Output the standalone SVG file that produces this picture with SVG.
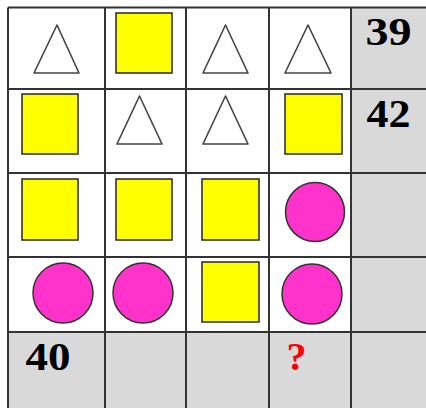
<svg xmlns="http://www.w3.org/2000/svg" width="426" height="408" viewBox="0 0 426 408">
<style>
.tri{fill:#fff;stroke:#444;stroke-width:1.6;stroke-linejoin:round}
.sq{fill:#ffff00;stroke:#333;stroke-width:1.6}
.ci{fill:#ff33cc;stroke:#333;stroke-width:1.5}
.gl{stroke:#333;stroke-width:2;fill:none}
.num{font-family:"Liberation Serif",serif;font-weight:bold;font-size:40px;fill:#000}
.q{font-family:"Liberation Serif",serif;font-weight:bold;font-size:40px;fill:#ff0000}
</style>
<rect x="0" y="0" width="426" height="408" fill="#fff"/>
<rect x="351" y="7.5" width="75" height="400.5" fill="#d9d9d9"/>
<rect x="8" y="332" width="418" height="76" fill="#d9d9d9"/>
<g id="grid">
<path class="gl" d="M8 7.5H426M8 89H426M8 173H426M8 257H426M8 332H426M8 7.5V408M105 7.5V408M186 7.5V408M269 7.5V408M351 7.5V408"/>
</g>
<g id="r0c0"><polygon class="tri" points="57,25 34,73 79,73"/></g>
<g id="r0c1"><rect class="sq" x="116" y="13" width="56" height="60"/></g>
<g id="r0c2"><polygon class="tri" points="225.5,25 203,73 248,73"/></g>
<g id="r0c3"><polygon class="tri" points="308,25 285,73 331,73"/></g>
<g id="r0c4"><text class="num" x="388.5" y="45" text-anchor="middle" textLength="46" lengthAdjust="spacingAndGlyphs">39</text></g>
<g id="r1c0"><rect class="sq" x="22" y="94" width="56" height="60"/></g>
<g id="r1c1"><polygon class="tri" points="139.5,96 117,144 162,144"/></g>
<g id="r1c2"><polygon class="tri" points="225.5,96 203,144 248,144"/></g>
<g id="r1c3"><rect class="sq" x="285" y="94" width="57" height="60"/></g>
<g id="r1c4"><text class="num" x="388.5" y="127" text-anchor="middle" textLength="44" lengthAdjust="spacingAndGlyphs">42</text></g>
<g id="r2c0"><rect class="sq" x="22" y="179" width="56" height="61"/></g>
<g id="r2c1"><rect class="sq" x="116" y="179" width="56" height="61"/></g>
<g id="r2c2"><rect class="sq" x="202" y="179" width="57" height="61"/></g>
<g id="r2c3"><circle class="ci" cx="315" cy="212" r="29.5"/></g>
<g id="r3c0"><circle class="ci" cx="63" cy="293" r="30"/></g>
<g id="r3c1"><circle class="ci" cx="143" cy="293" r="30"/></g>
<g id="r3c2"><rect class="sq" x="202" y="262" width="57" height="60"/></g>
<g id="r3c3"><circle class="ci" cx="312" cy="294" r="30"/></g>
<g id="r4c0"><text class="num" x="48" y="370" text-anchor="middle" textLength="45" lengthAdjust="spacingAndGlyphs">40</text></g>
<g id="r4c3"><text class="q" x="296.5" y="370" text-anchor="middle">?</text></g>
</svg>
